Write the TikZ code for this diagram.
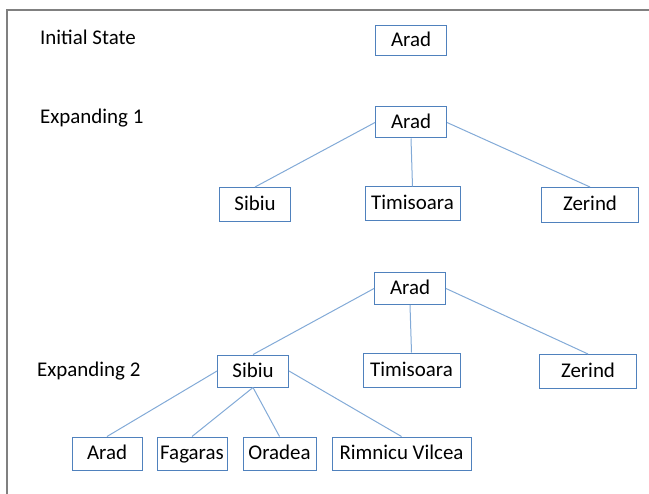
\documentclass[tikz,border=0pt]{standalone}
\usepackage{fontspec}
\setmainfont{Carlito}
\definecolor{boxblue}{RGB}{79,129,189}
\definecolor{linkblue}{RGB}{130,170,215}
\definecolor{framegray}{RGB}{128,128,128}

\begin{document}
\begin{tikzpicture}[x=1bp, y=-1bp,
    city/.style={draw=boxblue, line width=1bp, inner sep=0pt, minimum width=71bp, minimum height=33bp,
      text height=15bp, text depth=3bp, font=\fontsize{21}{25}\selectfont},
    stage/.style={anchor=base west, inner sep=0pt, font=\fontsize{21}{25}\selectfont},
    link/.style={draw=linkblue, line width=1bp}]
      \useasboundingbox (0,0) rectangle (649,494);
      \draw[framegray, line width=2.5bp] (7,494) -- (7,10) -- (649,10);

      \node[stage] (l0) at (40,45) {Initial State};
      \node[stage] (l1) at (40,124) {Expanding 1};
      \node[stage] (l2) at (37,376) {Expanding 2};

      \node[city, minimum height=30bp] (a0) at (411,41) {Arad};

      \node[city, minimum height=31bp] (a1) at (411,122.5) {Arad};
      \node[city, minimum height=34bp] (s1) at (255,204.5) {Sibiu};
      \node[city, minimum width=95bp, minimum height=34bp] (t1) at (412.5,204) {Timisoara};
      \node[city, minimum width=97bp, minimum height=35bp] (z1) at (590,205) {Zerind};

      \node[city, minimum height=32bp] (a2) at (410,288.5) {Arad};
      \node[city, minimum height=32bp] (s2) at (253,371) {Sibiu};
      \node[city, minimum width=97bp, minimum height=34bp] (t2) at (411.5,370) {Timisoara};
      \node[city, minimum width=97bp, minimum height=34bp] (z2) at (588,371.5) {Zerind};

      \node[city, minimum width=70bp] (a3) at (107,453.5) {Arad};
      \node[city, minimum width=70bp] (f3) at (192,453.5) {Fagaras};
      \node[city, minimum width=73bp] (o3) at (279.5,453.5) {Oradea};
      \node[city, minimum width=139bp] (r3) at (401.5,453.5) {Rimnicu Vilcea};

      \draw[link] (a1.west) -- (s1.north);
      \draw[link] (a1.south) -- (t1.north);
      \draw[link] (a1.east) -- (z1.north);

      \draw[link] (a2.west) -- (s2.north);
      \draw[link] (a2.south) -- (t2.north);
      \draw[link] (a2.east) -- (z2.north);

      \draw[link] (s2.west) -- (a3.north);
      \draw[link] (s2.south) -- (f3.north);
      \draw[link] (s2.south) -- (o3.north);
      \draw[link] (s2.east) -- (r3.north);
    \end{tikzpicture}
\end{document}
